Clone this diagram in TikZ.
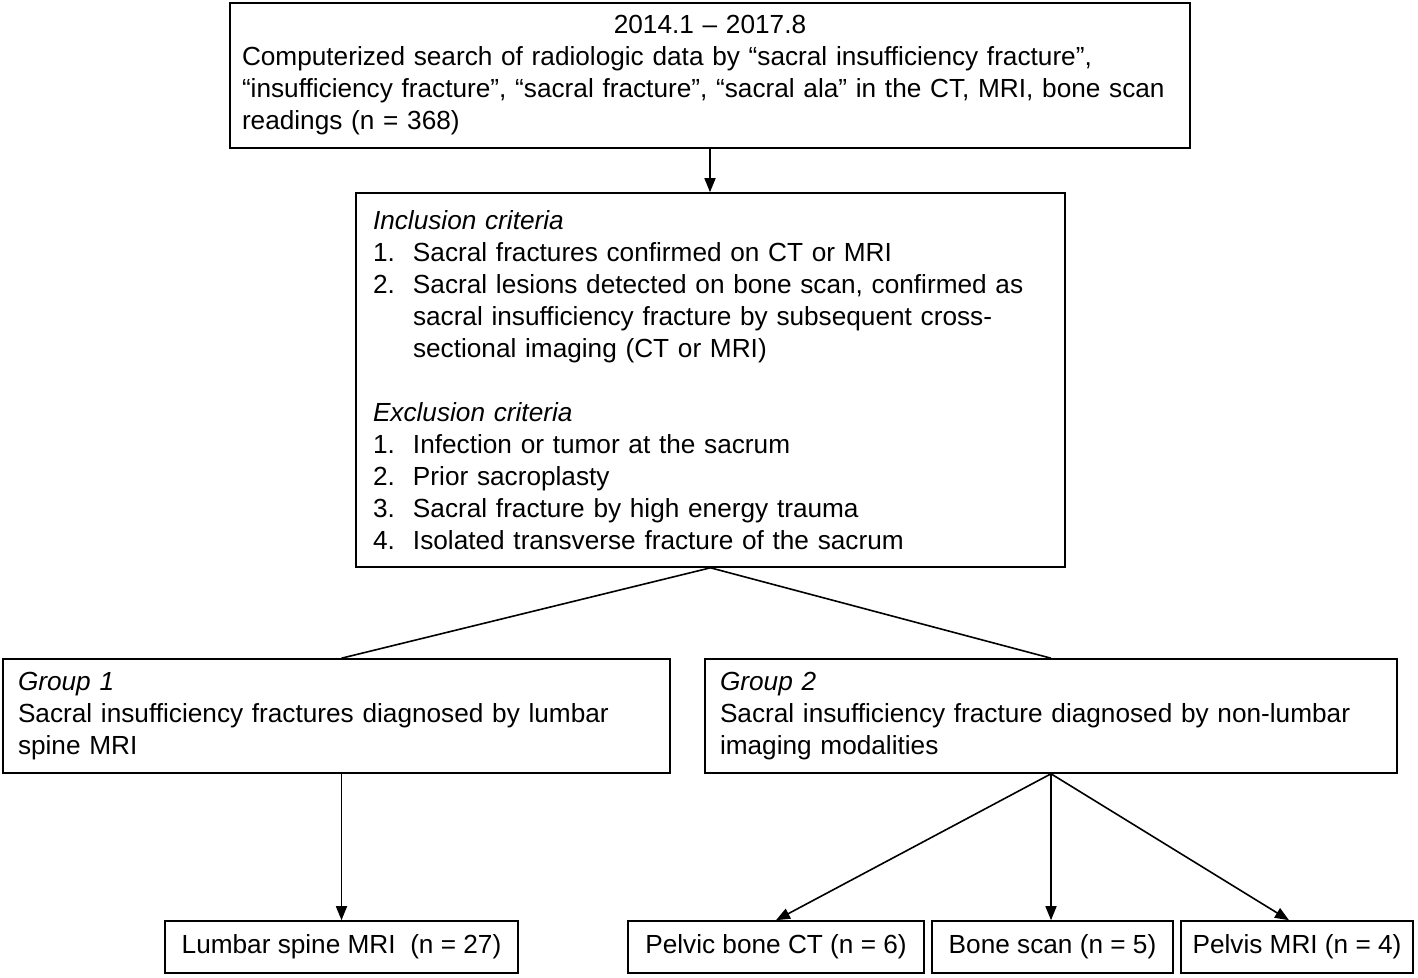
\documentclass[tikz,border=0pt]{standalone}
\usepackage{fontspec}
\setmainfont{Liberation Sans}
\usetikzlibrary{arrows.meta,calc}
\begin{document}
\begin{tikzpicture}[x=1pt,y=-1pt,
  box/.style={draw, line width=1.6pt, rectangle, inner ysep=0pt, align=left,
    font=\fontsize{26.2}{32}\selectfont},
  cbox/.style={draw, line width=1.6pt, rectangle, inner sep=0pt, align=center,
    minimum height=52pt, font=\fontsize{26.2}{32}\selectfont},
  arr/.style={line width=1.6pt, -{Triangle[length=14pt,width=11pt]}},
  ln/.style={line width=1.6pt}]
\useasboundingbox[fill=white] (0,0) rectangle (1418,977);

\node[box, text width=936pt, inner xsep=12pt, minimum height=145pt] (top) at (710,75.5)
 {\makebox[936pt]{2014.1 – 2017.8}\\
  \mbox{Computerized search of radiologic data by “sacral insufficiency fracture”,}\\
  \mbox{“insufficiency fracture”, “sacral fracture”, “sacral ala” in the CT, MRI, bone scan}\\
  \mbox{readings (n = 368)}};

\node[box, text width=675pt, inner xsep=17pt, minimum height=374pt] (mid) at (710.5,380)
 {\textit{Inclusion criteria}\\
  \makebox[40pt][l]{1.}\mbox{Sacral fractures confirmed on CT or MRI}\\
  \makebox[40pt][l]{2.}\mbox{Sacral lesions detected on bone scan, confirmed as}\\
  \hspace*{40pt}\mbox{sacral insufficiency fracture by subsequent cross-}\\
  \hspace*{40pt}\mbox{sectional imaging (CT or MRI)}\\
  \mbox{}\\
  \textit{Exclusion criteria}\\
  \makebox[40pt][l]{1.}\mbox{Infection or tumor at the sacrum}\\
  \makebox[40pt][l]{2.}\mbox{Prior sacroplasty}\\
  \makebox[40pt][l]{3.}\mbox{Sacral fracture by high energy trauma}\\
  \makebox[40pt][l]{4.}\mbox{Isolated transverse fracture of the sacrum}};

\node[box, text width=637pt, inner xsep=15pt, minimum height=114pt] (g1) at (336.5,716)
 {\textit{Group 1}\\
  \mbox{Sacral insufficiency fractures diagnosed by lumbar}\\
  \mbox{spine MRI}};

\node[box, text width=662pt, inner xsep=15pt, minimum height=114pt] (g2) at (1051,716)
 {\textit{Group 2}\\
  \mbox{Sacral insufficiency fracture diagnosed by non-lumbar}\\
  \mbox{imaging modalities}};

\node[cbox, minimum width=353pt] (lum) at (341.5,947) {Lumbar spine MRI\ \ (n = 27)};
\node[cbox, minimum width=296pt] (ct) at (776,947) {Pelvic bone CT (n = 6)};
\node[cbox, minimum width=241pt] (bs) at (1052.5,947) {Bone scan (n = 5)};
\node[cbox, minimum width=232pt] (mri) at (1297,947) {Pelvis MRI (n = 4)};

\draw[arr] (top.south) -- (top.south |- mid.north);
\draw[ln] (mid.south) -- (lum.north |- g1.north);
\draw[ln] (mid.south) -- (g2.north);
\draw[arr] (lum.north |- g1.south) -- (lum.north);
\draw[arr] (g2.south) -- (ct.north);
\draw[arr] (g2.south) -- (g2.south |- bs.north);
\draw[arr] (g2.south) -- ($(mri.north)+(-8,0)$);
\end{tikzpicture}
\end{document}
